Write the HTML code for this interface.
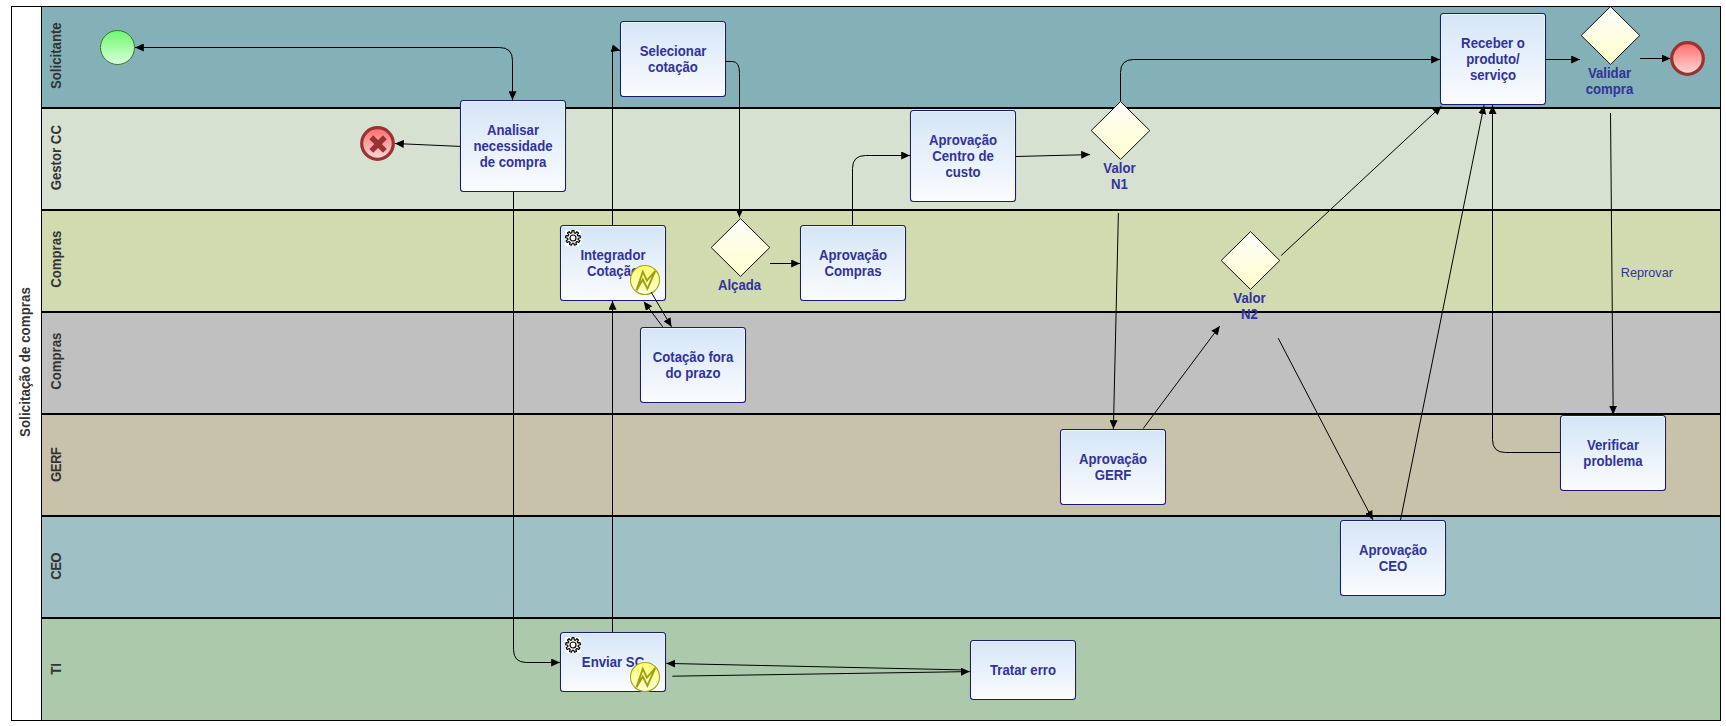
<!DOCTYPE html>
<html><head><meta charset="utf-8"><title>Solicitação de compras</title>
<style>
html,body{margin:0;padding:0;background:#fff;}
body{width:1726px;height:726px;overflow:hidden;font-family:"Liberation Sans",sans-serif;}
svg{display:block;}
text{font-family:"Liberation Sans",sans-serif;}
.t{font-weight:bold;font-size:13.2px;fill:#333399;text-anchor:middle;}
.r{font-weight:normal;font-size:12.7px;fill:#333399;}
.l{font-weight:bold;font-size:13.2px;fill:#333333;text-anchor:middle;}
.f{stroke:#000;stroke-width:1;fill:none;}
</style></head><body>
<svg width="1726" height="726" viewBox="0 0 1726 726">
<defs>
<linearGradient id="gt" x1="0" y1="0" x2="0" y2="1"><stop offset="0" stop-color="#d4e5f7"/><stop offset="1" stop-color="#fbfcfe"/></linearGradient>
<linearGradient id="gg" x1="0" y1="0" x2="0" y2="1"><stop offset="0" stop-color="#fdfdfb"/><stop offset="1" stop-color="#ffffcc"/></linearGradient>
<linearGradient id="gs" x1="0" y1="0" x2="0" y2="1"><stop offset="0" stop-color="#6cf86c"/><stop offset="1" stop-color="#dcffdc"/></linearGradient>
<linearGradient id="ge" x1="0" y1="0" x2="0" y2="1"><stop offset="0" stop-color="#ff6b6b"/><stop offset="1" stop-color="#ffd9d9"/></linearGradient>
<linearGradient id="gy" x1="0" y1="0" x2="0" y2="1"><stop offset="0" stop-color="#ffff70"/><stop offset="1" stop-color="#ffffd8"/></linearGradient>
<marker id="ah" viewBox="0 0 8.8 8" refX="8.8" refY="4" markerWidth="8.8" markerHeight="8" markerUnits="userSpaceOnUse" orient="auto"><path d="M0,0 L8.8,4 L0,8 Z" fill="#000"/></marker>
<g id="gear"><rect x="0" y="0" width="16" height="16" fill="#fff"/><path fill="none" stroke="#000" stroke-width="1.2" stroke-linejoin="round" d="M6.85,2.83 L6.97,0.67 L9.03,0.67 L9.15,2.83 L10.45,3.30 L11.92,1.72 L13.50,3.05 L12.20,4.77 L12.90,5.97 L15.04,5.71 L15.40,7.74 L13.29,8.23 L13.05,9.59 L14.86,10.77 L13.83,12.56 L11.91,11.58 L10.85,12.47 L11.47,14.53 L9.54,15.24 L8.69,13.25 L7.31,13.25 L6.46,15.24 L4.53,14.53 L5.15,12.47 L4.09,11.58 L2.17,12.56 L1.14,10.77 L2.95,9.59 L2.71,8.23 L0.60,7.74 L0.96,5.71 L3.10,5.97 L3.80,4.77 L2.50,3.05 L4.08,1.72 L5.55,3.30 Z"/><circle cx="8" cy="8" r="3" fill="none" stroke="#000" stroke-width="1.2"/></g>
<g id="err"><circle cx="0" cy="0" r="14.5" fill="url(#gy)" stroke="#a5a518" stroke-width="1.1"/><path d="M-8.5,10.2 L-2.2,-8.3 L1.9,0.6 L10.2,-9 L2.4,8.8 L-2.2,-0.5 Z" fill="none" stroke="#9e9e10" stroke-width="1.9" stroke-linejoin="miter"/></g>
</defs>
<rect x="11.5" y="6.5" width="1709" height="714" fill="#fff" stroke="none"/>
<rect x="41.5" y="6.5" width="1679" height="101.5" fill="#84b0b7"/>
<rect x="41.5" y="108" width="1679" height="102" fill="#d6e1d1"/>
<rect x="41.5" y="210" width="1679" height="102" fill="#d2dbaf"/>
<rect x="41.5" y="312" width="1679" height="102" fill="#c0c0c0"/>
<rect x="41.5" y="414" width="1679" height="102" fill="#c9c2aa"/>
<rect x="41.5" y="516" width="1679" height="102" fill="#9fc0c5"/>
<rect x="41.5" y="618" width="1679" height="102.5" fill="#accaab"/>
<line x1="41.5" y1="108" x2="1720.5" y2="108" stroke="#000" stroke-width="2"/>
<line x1="41.5" y1="210" x2="1720.5" y2="210" stroke="#000" stroke-width="2"/>
<line x1="41.5" y1="312" x2="1720.5" y2="312" stroke="#000" stroke-width="2"/>
<line x1="41.5" y1="414" x2="1720.5" y2="414" stroke="#000" stroke-width="2"/>
<line x1="41.5" y1="516" x2="1720.5" y2="516" stroke="#000" stroke-width="2"/>
<line x1="41.5" y1="618" x2="1720.5" y2="618" stroke="#000" stroke-width="2"/>
<rect x="11.5" y="6.5" width="1709" height="714" fill="none" stroke="#000" stroke-width="1"/>
<line x1="41.5" y1="6.5" x2="41.5" y2="720.5" stroke="#000" stroke-width="1"/>
<text class="l" transform="translate(61.2,55.65) rotate(-90) scale(1,1.07)">Solicitante</text>
<text class="l" transform="translate(61.2,157.7) rotate(-90) scale(1,1.07)">Gestor CC</text>
<text class="l" transform="translate(61.2,259.2) rotate(-90) scale(1,1.07)">Compras</text>
<text class="l" transform="translate(61.2,361.2) rotate(-90) scale(1,1.07)">Compras</text>
<text class="l" style="letter-spacing:-0.6px" transform="translate(61.2,464.8) rotate(-90) scale(1,1.07)">GERF</text>
<text class="l" style="letter-spacing:-0.6px" transform="translate(61.2,566.4) rotate(-90) scale(1,1.07)">CEO</text>
<text class="l" transform="translate(61.2,668.85) rotate(-90) scale(1,1.07)">TI</text>
<text class="l" style="letter-spacing:0.12px" transform="translate(30.2,362) rotate(-90) scale(1,1.07)">Solicitação de compras</text>
<path class="f" d="M498,47.5 L135,47.5" marker-end="url(#ah)"/>
<path class="f" d="M135,47.5 L499.5,47.5 Q512.5,47.5 512.5,60.5 L512.5,100" marker-end="url(#ah)"/>
<path class="f" d="M460,146.4 L395,143.5" marker-end="url(#ah)"/>
<path class="f" d="M513.5,191.5 L513.5,649.5 Q513.5,662.5 526.5,662.5 L560,662.5" marker-end="url(#ah)"/>
<path class="f" d="M612.5,632 L612.5,301" marker-end="url(#ah)"/>
<path class="f" d="M612.5,225 L612.5,48.4 L620.2,50.6" marker-end="url(#ah)"/>
<path class="f" d="M726,61.5 L732.5,61.5 Q739.5,61.5 739.5,73.5 L739.5,217.4" marker-end="url(#ah)"/>
<path class="f" d="M770,263.5 L800,263.5" marker-end="url(#ah)"/>
<path class="f" d="M852.5,225 L852.5,168.5 Q852.5,155.5 865.5,155.5 L910,155.5" marker-end="url(#ah)"/>
<path class="f" d="M1016,156.5 L1090,154.6" marker-end="url(#ah)"/>
<path class="f" d="M1120.5,101 L1120.5,72.5 Q1120.5,59.5 1133.5,59.5 L1440,59.5" marker-end="url(#ah)"/>
<path class="f" d="M1118.4,213 L1113.4,429" marker-end="url(#ah)"/>
<path class="f" d="M1143.2,428.5 L1219.8,326" marker-end="url(#ah)"/>
<path class="f" d="M1281.2,255.5 L1441.4,106.2" marker-end="url(#ah)"/>
<path class="f" d="M1278.2,338.2 L1372.8,519.7" marker-end="url(#ah)"/>
<path class="f" d="M1400.5,520 L1484,105.3" marker-end="url(#ah)"/>
<path class="f" d="M1546,59.5 L1580,59.5" marker-end="url(#ah)"/>
<path class="f" d="M1640,58.5 L1670.5,58.5" marker-end="url(#ah)"/>
<path class="f" d="M1610.5,113 L1613.2,414.5" marker-end="url(#ah)"/>
<path class="f" d="M1560,452.5 L1505.5,452.5 Q1492.5,452.5 1492.5,439.5 L1492.5,105.2" marker-end="url(#ah)"/>
<path class="f" d="M672.4,676.2 L969.8,671.6" marker-end="url(#ah)"/>
<path class="f" d="M962,669.9 L666.3,663.4" marker-end="url(#ah)"/>
<rect x="460.5" y="100.5" width="105" height="91" rx="3" ry="3" fill="url(#gt)" stroke="#1a1a7a" stroke-width="1.1"/>
<rect x="461.5" y="101.5" width="103" height="89" rx="2" ry="2" fill="none" stroke="#fff" stroke-opacity="0.55" stroke-width="1"/>
<text class="t" transform="translate(513,135.1) scale(1,1.07)">Analisar</text>
<text class="t" transform="translate(513,151.1) scale(1,1.07)">necessidade</text>
<text class="t" transform="translate(513,167.1) scale(1,1.07)">de compra</text>
<rect x="620.5" y="21.5" width="105" height="75" rx="3" ry="3" fill="url(#gt)" stroke="#1a1a7a" stroke-width="1.1"/>
<rect x="621.5" y="22.5" width="103" height="73" rx="2" ry="2" fill="none" stroke="#fff" stroke-opacity="0.55" stroke-width="1"/>
<text class="t" transform="translate(673,56.1) scale(1,1.07)">Selecionar</text>
<text class="t" transform="translate(673,72.1) scale(1,1.07)">cotação</text>
<rect x="560.5" y="225.5" width="105" height="75" rx="3" ry="3" fill="url(#gt)" stroke="#1a1a7a" stroke-width="1.1"/>
<rect x="561.5" y="226.5" width="103" height="73" rx="2" ry="2" fill="none" stroke="#fff" stroke-opacity="0.55" stroke-width="1"/>
<text class="t" transform="translate(613,260.1) scale(1,1.07)">Integrador</text>
<text class="t" transform="translate(613,276.1) scale(1,1.07)">Cotação</text>
<use href="#gear" x="565" y="230"/>
<use href="#err" x="645" y="280"/>
<rect x="800.5" y="225.5" width="105" height="75" rx="3" ry="3" fill="url(#gt)" stroke="#1a1a7a" stroke-width="1.1"/>
<rect x="801.5" y="226.5" width="103" height="73" rx="2" ry="2" fill="none" stroke="#fff" stroke-opacity="0.55" stroke-width="1"/>
<text class="t" transform="translate(853,260.1) scale(1,1.07)">Aprovação</text>
<text class="t" transform="translate(853,276.1) scale(1,1.07)">Compras</text>
<rect x="640.5" y="327.5" width="105" height="75" rx="3" ry="3" fill="url(#gt)" stroke="#1a1a7a" stroke-width="1.1"/>
<rect x="641.5" y="328.5" width="103" height="73" rx="2" ry="2" fill="none" stroke="#fff" stroke-opacity="0.55" stroke-width="1"/>
<text class="t" transform="translate(693,362.1) scale(1,1.07)">Cotação fora</text>
<text class="t" transform="translate(693,378.1) scale(1,1.07)">do prazo</text>
<rect x="910.5" y="110.5" width="105" height="91" rx="3" ry="3" fill="url(#gt)" stroke="#1a1a7a" stroke-width="1.1"/>
<rect x="911.5" y="111.5" width="103" height="89" rx="2" ry="2" fill="none" stroke="#fff" stroke-opacity="0.55" stroke-width="1"/>
<text class="t" transform="translate(963,145.1) scale(1,1.07)">Aprovação</text>
<text class="t" transform="translate(963,161.1) scale(1,1.07)">Centro de</text>
<text class="t" transform="translate(963,177.1) scale(1,1.07)">custo</text>
<rect x="1060.5" y="429.5" width="105" height="75" rx="3" ry="3" fill="url(#gt)" stroke="#1a1a7a" stroke-width="1.1"/>
<rect x="1061.5" y="430.5" width="103" height="73" rx="2" ry="2" fill="none" stroke="#fff" stroke-opacity="0.55" stroke-width="1"/>
<text class="t" transform="translate(1113,464.1) scale(1,1.07)">Aprovação</text>
<text class="t" transform="translate(1113,480.1) scale(1,1.07)">GERF</text>
<rect x="1340.5" y="520.5" width="105" height="75" rx="3" ry="3" fill="url(#gt)" stroke="#1a1a7a" stroke-width="1.1"/>
<rect x="1341.5" y="521.5" width="103" height="73" rx="2" ry="2" fill="none" stroke="#fff" stroke-opacity="0.55" stroke-width="1"/>
<text class="t" transform="translate(1393,555.1) scale(1,1.07)">Aprovação</text>
<text class="t" transform="translate(1393,571.1) scale(1,1.07)">CEO</text>
<rect x="1440.5" y="13.5" width="105" height="91" rx="3" ry="3" fill="url(#gt)" stroke="#1a1a7a" stroke-width="1.1"/>
<rect x="1441.5" y="14.5" width="103" height="89" rx="2" ry="2" fill="none" stroke="#fff" stroke-opacity="0.55" stroke-width="1"/>
<text class="t" transform="translate(1493,48.1) scale(1,1.07)">Receber o</text>
<text class="t" transform="translate(1493,64.1) scale(1,1.07)">produto/</text>
<text class="t" transform="translate(1493,80.1) scale(1,1.07)">serviço</text>
<rect x="1560.5" y="415.5" width="105" height="75" rx="3" ry="3" fill="url(#gt)" stroke="#1a1a7a" stroke-width="1.1"/>
<rect x="1561.5" y="416.5" width="103" height="73" rx="2" ry="2" fill="none" stroke="#fff" stroke-opacity="0.55" stroke-width="1"/>
<text class="t" transform="translate(1613,450.1) scale(1,1.07)">Verificar</text>
<text class="t" transform="translate(1613,466.1) scale(1,1.07)">problema</text>
<rect x="560.5" y="632.5" width="105" height="59" rx="3" ry="3" fill="url(#gt)" stroke="#1a1a7a" stroke-width="1.1"/>
<rect x="561.5" y="633.5" width="103" height="57" rx="2" ry="2" fill="none" stroke="#fff" stroke-opacity="0.55" stroke-width="1"/>
<text class="t" transform="translate(613,667.1) scale(1,1.07)">Enviar SC</text>
<use href="#gear" x="565" y="637"/>
<use href="#err" x="645" y="677"/>
<rect x="970.5" y="640.5" width="105" height="59" rx="3" ry="3" fill="url(#gt)" stroke="#1a1a7a" stroke-width="1.1"/>
<rect x="971.5" y="641.5" width="103" height="57" rx="2" ry="2" fill="none" stroke="#fff" stroke-opacity="0.55" stroke-width="1"/>
<text class="t" transform="translate(1023,675.1) scale(1,1.07)">Tratar erro</text>
<path class="f" d="M651.2,292.2 L671.5,326.8" marker-end="url(#ah)"/>
<path class="f" d="M662.7,326.8 L643.8,301.5" marker-end="url(#ah)"/>
<path d="M740.5,218.6 L769.8,247.5 L740.5,276.4 L711.2,247.5 Z" fill="url(#gg)" stroke="#111" stroke-width="1"/>
<text class="t" transform="translate(739.5,290) scale(1,1.07)">Alçada</text>
<path d="M1120.5,101.6 L1149.8,130.5 L1120.5,159.4 L1091.2,130.5 Z" fill="url(#gg)" stroke="#111" stroke-width="1"/>
<text class="t" transform="translate(1119.5,173) scale(1,1.07)">Valor</text>
<text class="t" transform="translate(1119.5,189) scale(1,1.07)">N1</text>
<path d="M1250.5,231.6 L1279.8,260.5 L1250.5,289.4 L1221.2,260.5 Z" fill="url(#gg)" stroke="#111" stroke-width="1"/>
<text class="t" transform="translate(1249.5,303) scale(1,1.07)">Valor</text>
<text class="t" transform="translate(1249.5,319) scale(1,1.07)">N2</text>
<path d="M1610.5,6.6 L1639.8,35.5 L1610.5,64.4 L1581.2,35.5 Z" fill="url(#gg)" stroke="#111" stroke-width="1"/>
<text class="t" transform="translate(1609.5,78) scale(1,1.07)">Validar</text>
<text class="t" transform="translate(1609.5,94) scale(1,1.07)">compra</text>
<circle cx="117.5" cy="47.5" r="17" fill="url(#gs)" stroke="#2f7a2f" stroke-width="1"/>
<circle cx="1687.5" cy="58.5" r="15.8" fill="url(#ge)" stroke="#993333" stroke-width="3.2"/>
<circle cx="377.5" cy="143.5" r="15.8" fill="url(#ge)" stroke="#993333" stroke-width="3.2"/>
<path d="M371.3,137.3 L384.9,150.9 M384.9,137.3 L371.3,150.9" stroke="#993333" stroke-width="5.5" fill="none"/>
<text class="r" transform="translate(1620.8,276.8) scale(1,1.07)">Reprovar</text>
</svg>
</body></html>
